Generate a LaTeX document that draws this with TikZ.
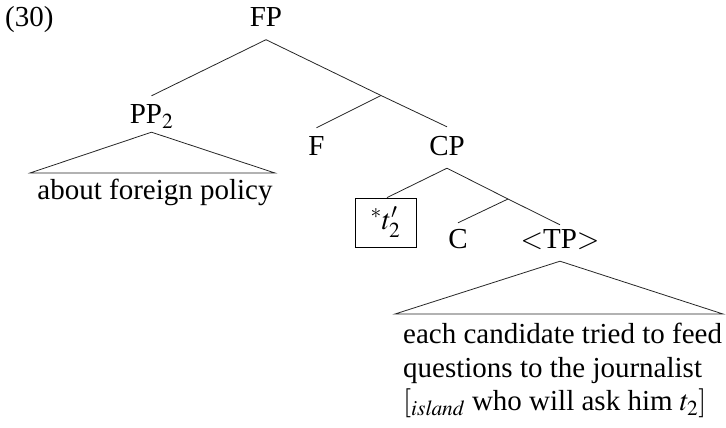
\documentclass[tikz,border=0pt]{standalone}
\usepackage{mathptmx}
\usepackage{fontspec}
\setmainfont{Liberation Serif}
\usepackage{tikz}

\begin{document}
\begin{tikzpicture}[
  x=1pt, y=-1pt,
  every node/.style={font=\fontsize{29}{33.5}\selectfont},
  cat/.style={anchor=base, inner sep=0pt, text height=19pt, text depth=0pt},
  branch/.style={draw, line width=0.8pt, black!85},
  tracebox/.style={draw, line width=0.8pt, minimum width=61pt, minimum height=49pt, inner sep=0pt}
]
\useasboundingbox (0,0) rectangle (726,428);
% labels
\node[anchor=base west, inner sep=0pt] (exnum) at (5,27) {(30)};
\node[cat] (FP) at (266,27) {FP};
\node[cat] (PP) at (151.5,124) {PP$_2$};
\node[cat] (F)  at (316.5,155) {F};
\node[cat] (CP) at (447,155) {CP};
\node[tracebox] (trace) at (385.5,222.5) {$^*t'_2$};
\node[cat] (C)  at (458,248) {C};
\node[cat] (TP) at (560,248) {$<$TP$>$};
\node[anchor=base, inner sep=0pt] (PPwords) at (155,199) {about foreign policy};
\node[anchor=north west, inner sep=0pt, align=left] (TPwords) at (403,323)
  {each candidate tried to feed\\
   questions to the journalist\\
   $[_{\mathit{island}}$ who will ask him $t_2]$};
% bar levels
\coordinate (Fbar) at (381,95.5);
\coordinate (Cbar) at (508,199);
% branches
\path[branch] ([yshift=-12.5pt]FP.south) -- ([yshift=9pt]PP.north);
\path[branch] ([yshift=-12.5pt]FP.south) -- (Fbar) -- ([yshift=9pt]CP.north);
\path[branch] (Fbar) -- ([yshift=8pt]F.north);
\path[branch] ([yshift=-13pt]CP.south) -- ([xshift=1.5pt]trace.north);
\path[branch] ([yshift=-13pt]CP.south) -- (Cbar) -- ([yshift=4pt]TP.north);
\path[branch] (Cbar) -- ([yshift=6pt]C.north);
% triangles
\path[branch] ([yshift=-8pt]PP.south) -- (30,173) -- (275,173) -- cycle;
\path[branch] ([yshift=-13pt]TP.south) -- (395,314) -- (723,314) -- cycle;
\end{tikzpicture}
\end{document}
